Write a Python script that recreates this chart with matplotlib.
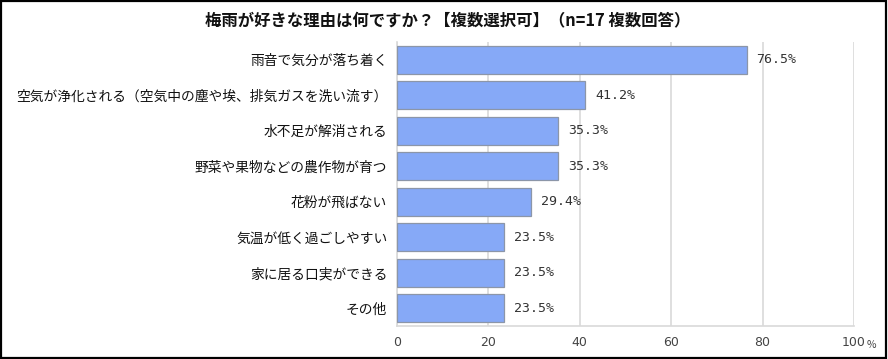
import matplotlib
matplotlib.use("Agg")
import matplotlib.pyplot as plt
from matplotlib.patches import Rectangle

plt.rcParams['font.family'] = ['Noto Sans CJK JP', 'DejaVu Sans']

title = "梅雨が好きな理由は何ですか？【複数選択可】（n=17 複数回答）"
categories = [
    "雨音で気分が落ち着く",
    "空気が浄化される（空気中の塵や埃、排気ガスを洗い流す）",
    "水不足が解消される",
    "野菜や果物などの農作物が育つ",
    "花粉が飛ばない",
    "気温が低く過ごしやすい",
    "家に居る口実ができる",
    "その他",
]
values = [76.5, 41.2, 35.3, 35.3, 29.4, 23.5, 23.5, 23.5]
xticks = [0, 20, 40, 60, 80, 100]
xtick_labels = ["0", "20", "40", "60", "80", "100"]

W, H = 888, 359
fig = plt.figure(figsize=(W / 100, H / 100), dpi=100)
fig.patch.set_facecolor("white")
fig.add_artist(Rectangle((0.001, 0.002), 0.997, 0.995, transform=fig.transFigure,
                         fill=False, edgecolor="black", linewidth=1.6))

ax = fig.add_axes([397 / W, 1 - 326 / H, (854 - 397) / W, (326 - 42) / H])
n = len(categories)
ypos = list(range(n))
ax.barh(ypos, values, height=0.79, color="#86A9F7", edgecolor="#8C96A8", linewidth=0.9, zorder=3)
ax.set_ylim(n - 0.5, -0.5)
ax.set_xlim(0, 100)
ax.set_yticks(ypos)
ax.set_yticklabels(categories, fontsize=9.9, color="#111111")
ax.set_xticks(xticks)
ax.set_xticklabels(xtick_labels, fontsize=9, color="#444444", family=['DejaVu Sans'])
ax.tick_params(axis="both", length=0)
ax.tick_params(axis="y", pad=7)
ax.tick_params(axis="x", pad=7)
ax.grid(axis="x", color="#D9D9D9", linewidth=1.2, zorder=0)
for s in ["top", "right"]:
    ax.spines[s].set_visible(False)
for s in ["left", "bottom"]:
    ax.spines[s].set_color("#D9D9D9")
    ax.spines[s].set_linewidth(1.2)

for y, v in zip(ypos, values):
    ax.annotate(f"{v:.1f}%", xy=(v, y), xytext=(7, 0), textcoords="offset points",
                va="center", ha="left", fontsize=9.5, color="#333333",
                family=['DejaVu Sans Mono'])

fig.text(867 / W, 1 - 345 / H, "%", fontsize=7.5, color="#444444", ha="left", va="center")
fig.text(448 / W, 1 - 20 / H, title, fontsize=11.8, fontweight="bold", ha="center", va="center",
         color="#111111")

fig.savefig("out.png", dpi=100)
